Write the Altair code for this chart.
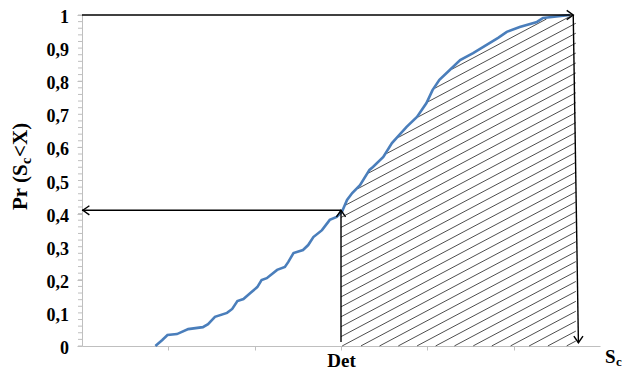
import altair as alt
import numpy as np
import pandas as pd

# ---- data ----
cdf_x = [0.85, 0.93, 0.99, 1.10, 1.23, 1.40, 1.46, 1.54, 1.68, 1.74, 1.80, 1.87, 1.95,
         2.03, 2.08, 2.14, 2.26, 2.35, 2.39, 2.45, 2.56, 2.62, 2.68, 2.78, 2.87, 2.95,
         3.01, 3.07, 3.13, 3.22, 3.33, 3.37, 3.49, 3.59, 3.76, 3.88, 3.99, 4.06, 4.14,
         4.26, 4.38, 4.53, 4.72, 4.82, 4.92, 5.07, 5.27, 5.34, 5.65]
cdf_y = [0.000, 0.018, 0.033, 0.036, 0.051, 0.057, 0.066, 0.088, 0.100, 0.112, 0.136,
         0.142, 0.160, 0.178, 0.199, 0.205, 0.230, 0.239, 0.254, 0.281, 0.290, 0.305,
         0.329, 0.350, 0.381, 0.390, 0.405, 0.441, 0.462, 0.486, 0.532, 0.541, 0.571,
         0.613, 0.662, 0.692, 0.734, 0.773, 0.804, 0.834, 0.864, 0.885, 0.915, 0.931,
         0.949, 0.964, 0.979, 0.991, 1.000]

det_x = 3.0
det_p = 0.41
right_top_x = 5.69
right_bottom_x = 5.75
x_ticks = [1, 2, 3, 4, 5]
y_ticks = [i / 10 for i in range(11)]
y_labels = ["0", "0,1", "0,2", "0,3", "0,4", "0,5", "0,6", "0,7", "0,8", "0,9", "1"]
y_minor = [i / 50 for i in range(51)]
hatch_slope = 0.1385
hatch_step = 0.03

FONT = "Liberation Serif"
AXIS_GREY = "#BFBFBF"

curve_df = pd.DataFrame({"x": cdf_x, "y": cdf_y})
minor_df = pd.DataFrame({"v": y_minor})
ylab_df = pd.DataFrame({"v": y_ticks, "t": y_labels})

# ---- hatching segments clipped to the region under the curve ----
grid = np.linspace(det_x, (right_top_x + right_bottom_x) / 2, 800)
cur = np.interp(grid, cdf_x, cdf_y)
segs = []
c = -hatch_slope * (grid[-1] - det_x) + hatch_step / 2
while c < 1:
    v = c + hatch_slope * (grid - det_x)
    idx = np.where((v >= 0) & (v <= cur - 0.004))[0]
    if len(idx) > 1:
        splits = np.where(np.diff(idx) > 1)[0]
        starts = np.r_[idx[0], idx[splits + 1]]
        ends = np.r_[idx[splits], idx[-1]]
        for s, e in zip(starts, ends):
            if e > s:
                segs.append(dict(x=grid[s], y=v[s], x2=grid[e], y2=v[e]))
    c += hatch_step
hatch_df = pd.DataFrame(segs)

lines_df = pd.DataFrame([
    dict(x=0, y=1, x2=right_top_x, y2=1),
    dict(x=right_top_x, y=1, x2=right_bottom_x, y2=0.01),
    dict(x=det_x, y=0.012, x2=det_x, y2=det_p),
    dict(x=det_x, y=det_p, x2=0, y2=det_p),
])
heads_df = pd.DataFrame([
    dict(x=right_top_x, y=1, d="right"),
    dict(x=right_bottom_x, y=0.01, d="down"),
    dict(x=det_x, y=det_p, d="up"),
    dict(x=0.01, y=det_p, d="left"),
])

xs = alt.Scale(domain=[0, 6], nice=False, zero=False)
ys = alt.Scale(domain=[0, 1], nice=False)

x_axis = alt.Axis(values=x_ticks, labelExpr="datum.value == 3 ? 'Det' : ''", title=None,
                  grid=False, domainColor=AXIS_GREY, tickColor=AXIS_GREY, tickSize=4,
                  labelFont=FONT, labelFontWeight="bold", labelFontSize=19,
                  labelColor="black", labelPadding=16, labelBaseline="alphabetic",
                  labelFlush=False)
y_axis = alt.Axis(values=y_ticks, labels=False, title=None, grid=False,
                  domainColor=AXIS_GREY, tickColor=AXIS_GREY, tickSize=5)

hatch = alt.Chart(hatch_df).mark_rule(color="#3a3a3a", strokeWidth=0.9).encode(
    x=alt.X("x:Q", scale=xs, axis=x_axis),
    y=alt.Y("y:Q", scale=ys, axis=y_axis),
    x2="x2:Q", y2="y2:Q")

minor = alt.Chart(minor_df).mark_rule(color=AXIS_GREY, strokeWidth=1).encode(
    y=alt.Y("v:Q", scale=ys, axis=y_axis), x=alt.value(-4), x2=alt.value(0))

ylabels = alt.Chart(ylab_df).mark_text(font=FONT, fontWeight="bold", fontSize=18,
                                       align="right", baseline="middle", dy=3,
                                       color="black").encode(
    y=alt.Y("v:Q", scale=ys, axis=y_axis), x=alt.value(-13), text="t:N")

curve = alt.Chart(curve_df).mark_line(color="#4A7EBB", strokeWidth=2.6).encode(
    x="x:Q", y="y:Q")

arrows = alt.Chart(lines_df).mark_rule(color="black", strokeWidth=1.4).encode(
    x="x:Q", y="y:Q", x2="x2:Q", y2="y2:Q")

heads = alt.Chart(heads_df).mark_point(filled=False, color="black", strokeWidth=1.4,
                                       size=170, opacity=1).encode(
    x="x:Q", y="y:Q",
    shape=alt.Shape("d:N", legend=None, scale=alt.Scale(
        domain=["right", "down", "up", "left"],
        range=["M-1,-0.7L0,0L-1,0.7", "M-0.7,-1L0,0L0.7,-1",
               "M-0.7,1L0,0L0.7,1", "M1,-0.7L0,0L1,0.7"])))

one = pd.DataFrame({"k": [0]})


def txt(s, x, y, size, angle=0):
    return alt.Chart(one).mark_text(text=s, font=FONT, fontWeight="bold", fontSize=size,
                                    align="left", baseline="alphabetic", angle=angle,
                                    color="black").encode(x=alt.value(x), y=alt.value(y))


# y title "Pr (Sc<X)" with subscript c, rotated
t1 = txt("Pr (S", -55, 195, 21, 270)
t2 = txt("c", -51, 149, 14, 270)
t3 = txt("<X)", -55, 142, 21, 270)
# x end label "Sc"
s1 = txt("S", 523, 348, 19)
s2 = txt("c", 534, 351, 13)

chart = alt.layer(minor, hatch, curve, arrows, heads, ylabels,
                  t1, t2, t3, s1, s2).properties(
    width=518, height=331,
    autosize=alt.AutoSizeParams(type="none"),
    padding={"left": 74, "top": 7, "right": 22, "bottom": 24},
).configure_view(stroke=None)

chart.save("out.html", embed_options={"renderer": "svg", "actions": False})
